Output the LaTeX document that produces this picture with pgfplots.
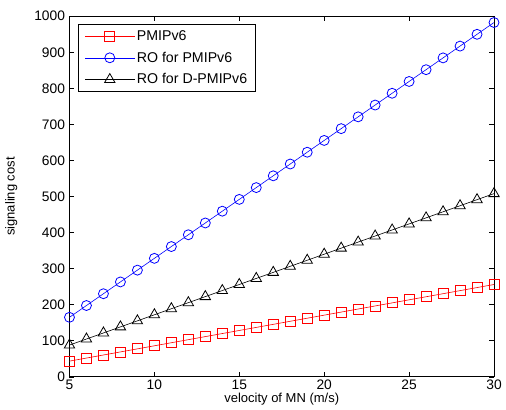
\documentclass[border=0pt]{standalone}
\usepackage{pgfplots}
\pgfplotsset{compat=1.18}
\usepackage{fontspec}
\setmainfont{Liberation Sans}

\pgfplotstableread{
x pmip ro dpmip
5 43.5 165.0 88.0
6 52.0 197.7 104.8
7 60.5 230.4 121.6
8 69.0 263.1 138.4
9 77.5 295.8 155.2
10 86.0 328.5 172.0
11 94.5 361.2 188.8
12 103.0 393.9 205.6
13 111.5 426.6 222.4
14 120.0 459.3 239.2
15 128.5 492.0 256.0
16 137.0 524.7 272.8
17 145.5 557.4 289.6
18 154.0 590.1 306.4
19 162.5 622.8 323.2
20 171.0 655.5 340.0
21 179.5 688.2 356.8
22 188.0 720.9 373.6
23 196.5 753.6 390.4
24 205.0 786.3 407.2
25 213.5 819.0 424.0
26 222.0 851.7 440.8
27 230.5 884.4 457.6
28 239.0 917.1 474.4
29 247.5 949.8 491.2
30 256.0 982.5 508.0
}\costs

\begin{document}
\begin{tikzpicture}
\begin{axis}[
    width=425pt, height=361pt,
    scale only axis,
    xmin=5, xmax=30,
    ymin=0, ymax=1000,
    xtick={5,10,...,30},
    ytick={0,100,...,1000},
    tick align=inside,
    major tick length=5pt,
    tick style={black, line width=0.6pt},
    axis line style={line width=0.8pt},
    font=\fontsize{13}{15}\selectfont,
    tick label style={font=\fontsize{13.8}{15}\selectfont},
    /pgf/number format/assume math mode=true,
    /pgf/number format/1000 sep={},
    yticklabel style={xshift=-1pt},
    xlabel={velocity of MN (m/s)},
    ylabel={signaling cost},
    xlabel style={yshift=4pt},
    ylabel style={yshift=10pt},
    legend cell align=left,
    legend style={at={(0.021,0.978)}, anchor=north west, draw=black,
        line width=0.8pt, font=\fontsize{14.2}{16}\selectfont,
        row sep=6pt, inner xsep=6pt, inner ysep=4pt},
    legend image code/.code={
        \draw[mark repeat=2,mark phase=2] plot coordinates {(0cm,0cm) (0.87cm,0cm) (1.74cm,0cm)};
    },
]
\addplot[red, line width=0.6pt, mark=square, mark size=5pt, mark options={line width=0.8pt}]
    table[x=x, y=pmip] {\costs};
\addlegendentry{PMIPv6}
\addplot[blue, line width=0.6pt, mark=o, mark size=5pt, mark options={line width=0.8pt}]
    table[x=x, y=ro] {\costs};
\addlegendentry{RO for PMIPv6}
\addplot[black, line width=0.6pt, mark=triangle, mark size=6pt, mark options={line width=0.8pt}]
    table[x=x, y=dpmip] {\costs};
\addlegendentry{RO for D-PMIPv6}
\end{axis}
% white margin as in the reference
\path (current bounding box.south west) ++(-2pt,-1pt) coordinate (sw);
\path (current bounding box.north east) ++(1pt,8pt) coordinate (ne);
\path (sw) rectangle (ne);
\end{tikzpicture}
\end{document}
